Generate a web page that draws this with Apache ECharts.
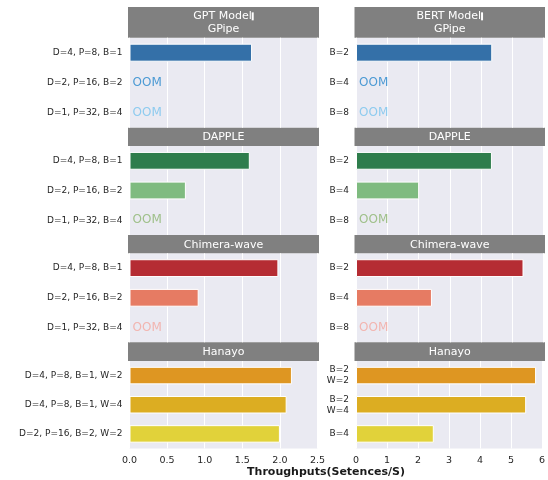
<!DOCTYPE html>
<html>
<head>
<meta charset="utf-8">
<script src="https://cdn.jsdelivr.net/npm/echarts@6/dist/echarts.min.js"></script>
<style>
  html, body { margin: 0; padding: 0; background: #fff; }
  #chart { width: 548px; height: 480px; }
</style>
</head>
<body>
<div id="chart"></div>
<script>
// Throughput of pipeline schemes, GPT (left column) vs BERT (right column)
const schemes = ['GPipe', 'DAPPLE', 'Chimera-wave', 'Hanayo'];

const gptConfigs = [
  ['D=4, P=8, B=1', 'D=2, P=16, B=2', 'D=1, P=32, B=4'],
  ['D=4, P=8, B=1', 'D=2, P=16, B=2', 'D=1, P=32, B=4'],
  ['D=4, P=8, B=1', 'D=2, P=16, B=2', 'D=1, P=32, B=4'],
  ['D=4, P=8, B=1, W=2', 'D=4, P=8, B=1, W=4', 'D=2, P=16, B=2, W=2']
];
const bertConfigs = [
  ['B=2', 'B=4', 'B=8'],
  ['B=2', 'B=4', 'B=8'],
  ['B=2', 'B=4', 'B=8'],
  ['B=2\nW=2', 'B=2\nW=4', 'B=4']
];

// null = out of memory
const gptGPipe   = [1.63, null, null];
const gptDapple  = [1.60, 0.75, null];
const gptChimera = [1.98, 0.92, null];
const gptHanayo  = [2.16, 2.09, 2.00];

const bertGPipe   = [4.36, null, null];
const bertDapple  = [4.35, 2.02, null];
const bertChimera = [5.36, 2.43, null];
const bertHanayo  = [5.81, 5.49, 2.51];

const gptTicks  = [0, 0.5, 1.0, 1.5, 2.0, 2.5];
const bertTicks = [0, 1, 2, 3, 4, 5, 6];

const palettes = [
  ['#3470a8', '#4c9ad4', '#8ecbef'],
  ['#2e7d4c', '#7fbb80', '#9fc08a'],
  ['#b52c33', '#e67b63', '#f2b5b0'],
  ['#de9622', '#dcad22', '#e1d23a']
];

const gptValues  = [gptGPipe, gptDapple, gptChimera, gptHanayo];
const bertValues = [bertGPipe, bertDapple, bertChimera, bertHanayo];

// layout
const colLeft  = [129.5, 356];
const colWidth = [188, 187.5];
const rowTop   = [37.7, 146, 253.3, 361];
const rowH     = [90, 89, 89, 87.5];
const headTop  = [7, 127.7, 235, 342.3];
const headH    = [30.7, 18.3, 18.3, 18.7];

const FONT = 'DejaVu Sans';
const grids = [], xAxes = [], yAxes = [], series = [], graphics = [];

for (let r = 0; r < 4; r++) {
  for (let c = 0; c < 2; c++) {
    const i = r * 2 + c;
    const cats = c === 0 ? gptConfigs[r] : bertConfigs[r];
    const vals = c === 0 ? gptValues[r] : bertValues[r];
    const ticks = c === 0 ? gptTicks : bertTicks;
    grids.push({
      left: colLeft[c], top: rowTop[r], width: colWidth[c], height: rowH[r],
      show: true, backgroundColor: '#eaeaf2', borderWidth: 0
    });
    xAxes.push({
      type: 'value', gridIndex: i,
      min: ticks[0], max: ticks[ticks.length - 1],
      interval: ticks[1] - ticks[0],
      axisLine: { show: false }, axisTick: { show: false },
      axisLabel: {
        show: r === 3, color: '#262626', fontFamily: FONT, fontSize: 9.5, margin: 7,
        formatter: v => c === 0 ? v.toFixed(1) : String(v)
      },
      splitLine: { show: true, lineStyle: { color: '#ffffff', width: 1 } }
    });
    yAxes.push({
      type: 'category', gridIndex: i, data: cats, inverse: true,
      axisLine: { show: false }, axisTick: { show: false },
      axisLabel: { color: '#262626', fontFamily: FONT, fontSize: 9, margin: 7, lineHeight: 11 },
      splitLine: { show: false }
    });
    series.push({
      type: 'bar', xAxisIndex: i, yAxisIndex: i, barWidth: '60%',
      animation: false,
      data: vals.map((v, k) => {
        const col = palettes[r][k];
        if (v === null) {
          return {
            value: 0, itemStyle: { color: 'transparent', borderWidth: 0 },
            label: { show: true, position: 'right', distance: 3, formatter: 'OOM',
                     color: col, fontFamily: FONT, fontSize: 12 }
          };
        }
        return { value: v, itemStyle: { color: col, borderColor: '#ffffff', borderWidth: 1 } };
      })
    });
    // facet header
    const title = r === 0
      ? (c === 0 ? 'GPT Model{bar|}\n' : 'BERT Model{bar|}\n') + schemes[r]
      : schemes[r];
    graphics.push({
      type: 'rect', silent: true,
      shape: { x: colLeft[c] - 1.5, y: headTop[r], width: colWidth[c] + 3, height: headH[r] },
      style: { fill: '#808080' }
    });
    graphics.push({
      type: 'text', silent: true,
      x: colLeft[c] + colWidth[c] / 2, y: headTop[r] + headH[r] / 2 + 0.5,
      style: {
        text: title, fill: '#ffffff', font: '11px "' + FONT + '"',
        align: 'center', verticalAlign: 'middle', lineHeight: 13,
        rich: { bar: { backgroundColor: '#ffffff', width: 2, height: 8, padding: 0, align: 'left' } }
      }
    });
  }
}

graphics.push({
  type: 'text', silent: true, x: 326, y: 472.5,
  style: {
    text: 'Throughputs(Setences/S)', fill: '#1a1a1a',
    font: 'bold 11px "' + FONT + '"', align: 'center', verticalAlign: 'middle'
  }
});

const chart = echarts.init(document.getElementById('chart'), null, { renderer: 'canvas' });
chart.setOption({
  animation: false,
  backgroundColor: '#ffffff',
  grid: grids, xAxis: xAxes, yAxis: yAxes, series: series, graphic: graphics
});
</script>
</body>
</html>
